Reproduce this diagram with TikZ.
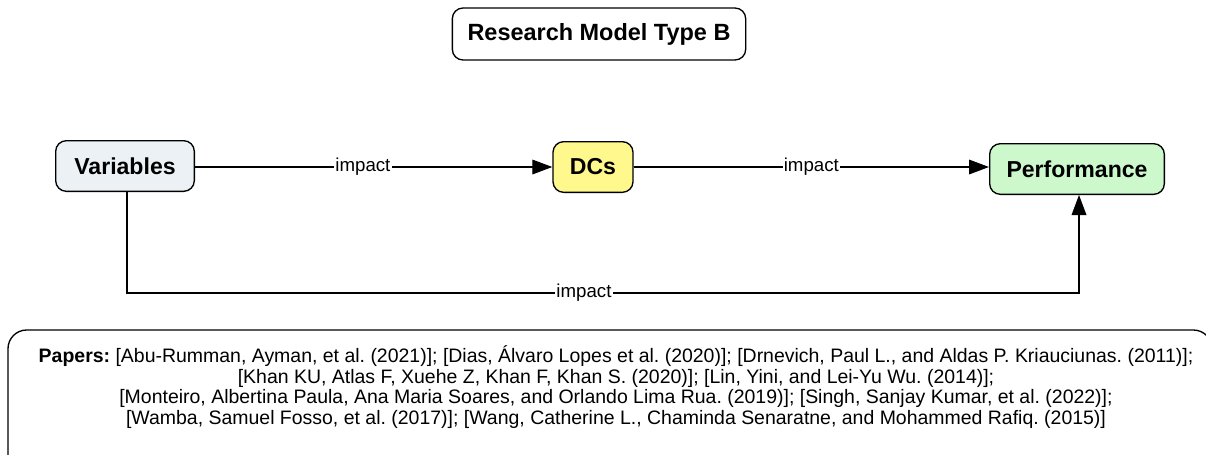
\documentclass[tikz,border=0pt]{standalone}
\usepackage{fontspec}
\setmainfont{Liberation Sans}
\usetikzlibrary{arrows.meta}
\frenchspacing
\tikzset{
  box/.style={draw, line width=1pt, rounded corners=8pt, inner sep=0pt, align=center},
  nodefont/.style={font=\bfseries\fontsize{17.3pt}{20pt}\selectfont},
  conn/.style={line width=0.9pt, -{Triangle[length=15pt,width=11pt]}},
  lbl/.style={fill=white, inner sep=1pt, font=\fontsize{14pt}{16pt}\selectfont},
}
\definecolor{varfill}{HTML}{EBF1F5}
\definecolor{dcfill}{HTML}{FFF88C}
\definecolor{perffill}{HTML}{CCF8CC}
\begin{document}
\begin{tikzpicture}[x=0.75pt,y=-0.75pt]
\useasboundingbox (0,0) rectangle (1206,454);
\node[box, minimum width=220pt, minimum height=39pt, font=\bfseries\fontsize{17.6pt}{20pt}\selectfont] (title) at (599,34) {Research Model Type B};
\node[box, nodefont, fill=varfill, minimum width=104pt, minimum height=38pt] (var) at (125,166) {Variables};
\node[box, nodefont, fill=dcfill, minimum width=60pt, minimum height=38pt] (dc) at (593,167) {DCs};
\node[box, nodefont, fill=perffill, minimum width=131pt, minimum height=38pt] (perf) at (1077,169) {Performance};
\coordinate (c1) at (127,293);
\coordinate (c2) at (1079,293);
\draw[conn] (var.east |- dc.west) -- node[lbl, pos=0.47] {impact} (dc.west);
\draw[conn] (dc.east) -- node[lbl, pos=0.5] {impact} (dc.east -| perf.west);
\draw[conn] (var.south -| c1) -- (c1) -- node[lbl, pos=0.48] {impact} (c2) -- (perf.south -| c2);
\draw[line width=1pt, rounded corners=14pt] (8,480) -- (8,330) -- (1212,330) -- (1212,480);
\node[align=center, inner sep=0pt, font=\fontsize{14.6pt}{15.4pt}\selectfont] (papers) at (616,387) {\textbf{Papers:} [Abu-Rumman, Ayman, et al. (2021)]; [Dias, Álvaro Lopes et al. (2020)]; [Drnevich, Paul L., and Aldas P. Kriauciunas. (2011)];\\
{}[Khan KU, Atlas F, Xuehe Z, Khan F, Khan S. (2020)]; [Lin, Yini, and Lei-Yu Wu. (2014)];\\
{}[Monteiro, Albertina Paula, Ana Maria Soares, and Orlando Lima Rua. (2019)]; [Singh, Sanjay Kumar, et al. (2022)];\\
{}[Wamba, Samuel Fosso, et al. (2017)]; [Wang, Catherine L., Chaminda Senaratne, and Mohammed Rafiq. (2015)]};
\end{tikzpicture}
\end{document}
